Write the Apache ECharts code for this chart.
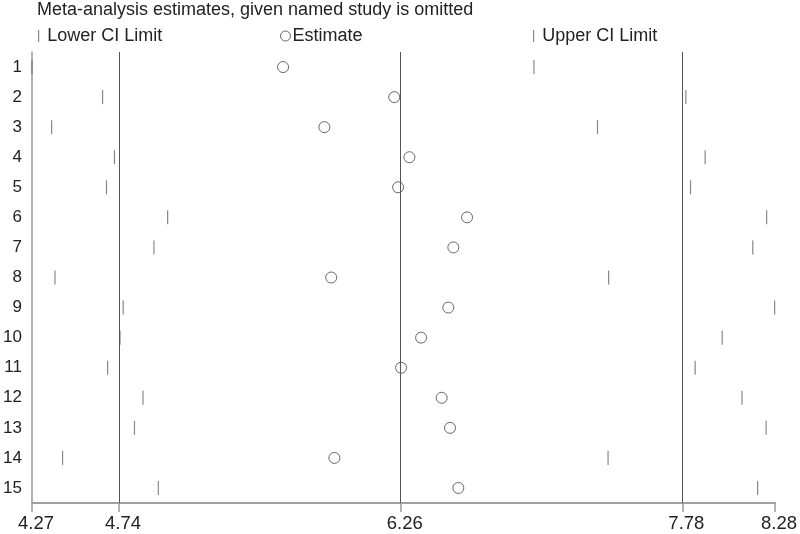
<!DOCTYPE html>
<html>
<head>
<meta charset="utf-8">
<script src="https://cdn.jsdelivr.net/npm/echarts@6/dist/echarts.min.js"></script>
<style>html,body{margin:0;padding:0;background:#fff}#c{width:800px;height:534px}</style>
</head>
<body>
<div id="c"></div>
<script>
var studies = ['1','2','3','4','5','6','7','8','9','10','11','12','13','14','15'];
var lowerCI = [4.27, 4.651, 4.376, 4.715, 4.672, 5.002, 4.928, 4.394, 4.762, 4.745, 4.678, 4.869, 4.823, 4.435, 4.952];
var estimate = [5.625, 6.225, 5.848, 6.307, 6.246, 6.618, 6.544, 5.885, 6.517, 6.370, 6.262, 6.481, 6.526, 5.902, 6.571];
var upperCI = [6.979, 7.799, 7.322, 7.903, 7.824, 8.235, 8.160, 7.382, 8.278, 7.995, 7.849, 8.102, 8.232, 7.379, 8.186];
var refLines = [4.74, 6.26, 7.78];
var xTicks = [4.27, 4.74, 6.26, 7.78, 8.28];

function pairs(vals) { return vals.map(function (v, i) { return [v, studies[i]]; }); }

var FONT = 'Liberation Sans, Arial, sans-serif';
var FS = 18;
var chart = echarts.init(document.getElementById('c'), null, {renderer: 'canvas'});
chart.setOption({
  animation: false,
  backgroundColor: '#fff',
  title: {
    text: 'Meta-analysis estimates, given named study is omitted',
    left: 32, top: 0, padding: [1, 5, 5, 5],
    textStyle: {fontFamily: FONT, fontSize: FS, fontWeight: 'normal', color: '#222'}
  },
  legend: [
    {data: ['Lower CI Limit'], left: 33, top: 22, itemWidth: 1.2, itemHeight: 12,
     textStyle: {fontFamily: FONT, fontSize: FS, color: '#222', padding: [0, 0, 0, 3]}},
    {data: ['Estimate'], left: 275, top: 22, itemWidth: 10, itemHeight: 10,
     itemStyle: {color: 'rgba(255,255,255,0)', borderColor: '#444', borderWidth: 1},
     textStyle: {fontFamily: FONT, fontSize: FS, color: '#222', padding: [0, 0, 0, -3]}},
    {data: ['Upper CI Limit'], left: 528, top: 22, itemWidth: 1.2, itemHeight: 12,
     textStyle: {fontFamily: FONT, fontSize: FS, color: '#222', padding: [0, 0, 0, 3]}}
  ],
  grid: {left: 32, right: 24.5, top: 52, bottom: 31, containLabel: false},
  xAxis: {
    type: 'value', min: 4.27, max: 8.28,
    axisLine: {show: true, onZero: false, lineStyle: {color: '#a0a0a0', width: 2}},
    axisTick: {show: true, customValues: xTicks, length: 9, lineStyle: {color: '#999', width: 1.5}},
    axisLabel: {customValues: xTicks, fontFamily: FONT, fontSize: 18.5, color: '#222', margin: 11,
      padding: [0, 0, 0, 8],
      formatter: function (v) { return v.toFixed(2); }},
    splitLine: {show: false}
  },
  yAxis: {
    type: 'category', data: studies, inverse: true,
    axisLine: {show: true, lineStyle: {color: '#999', width: 1.5}},
    axisTick: {show: false},
    axisLabel: {fontFamily: FONT, fontSize: 17, color: '#222', margin: 10},
    splitLine: {show: false}
  },
  series: [
    {name: 'Lower CI Limit', type: 'scatter', data: pairs(lowerCI), symbol: 'rect', symbolSize: [1.2, 14],
     itemStyle: {color: '#6a6a6a'}, z: 3},
    {name: 'Estimate', type: 'scatter', data: pairs(estimate), symbol: 'circle', symbolSize: 11,
     itemStyle: {color: 'rgba(255,255,255,0)', borderColor: '#444', borderWidth: 1}, z: 4,
     markLine: {silent: true, symbol: 'none', label: {show: false},
       lineStyle: {color: '#555', width: 1, type: 'solid'},
       data: refLines.map(function (v) { return {xAxis: v}; })}},
    {name: 'Upper CI Limit', type: 'scatter', data: pairs(upperCI), symbol: 'rect', symbolSize: [1.2, 14],
     itemStyle: {color: '#6a6a6a'}, z: 3}
  ]
});
</script>
</body>
</html>
